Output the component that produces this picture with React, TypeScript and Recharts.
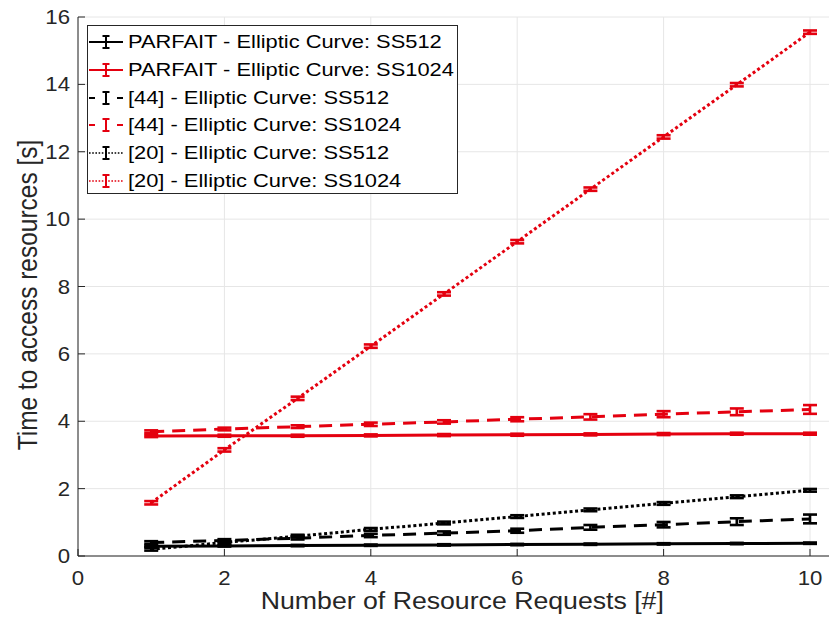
import React from 'react';
import { LineChart, Line, XAxis, YAxis, CartesianGrid, ErrorBar, Legend, Label } from 'recharts';

// ---- data ----
const requests = [1, 2, 3, 4, 5, 6, 7, 8, 9, 10];

const parfaitSS512 = [0.29, 0.3, 0.31, 0.32, 0.33, 0.34, 0.35, 0.36, 0.37, 0.38];
const parfaitSS512Err = [0.02, 0.02, 0.02, 0.02, 0.02, 0.02, 0.02, 0.02, 0.02, 0.02];

const parfaitSS1024 = [3.56, 3.57, 3.57, 3.58, 3.59, 3.6, 3.61, 3.62, 3.63, 3.63];
const parfaitSS1024Err = [0.03, 0.03, 0.03, 0.03, 0.03, 0.03, 0.03, 0.03, 0.03, 0.03];

const ref44SS512 = [0.4, 0.46, 0.53, 0.61, 0.68, 0.75, 0.85, 0.93, 1.02, 1.1];
const ref44SS512Err = [0.04, 0.04, 0.04, 0.05, 0.05, 0.06, 0.07, 0.08, 0.1, 0.13];

const ref44SS1024 = [3.69, 3.77, 3.84, 3.91, 3.98, 4.06, 4.13, 4.21, 4.28, 4.35];
const ref44SS1024Err = [0.04, 0.04, 0.04, 0.05, 0.05, 0.06, 0.08, 0.09, 0.1, 0.13];

const ref20SS512 = [0.2, 0.4, 0.59, 0.79, 0.98, 1.17, 1.37, 1.56, 1.76, 1.95];
const ref20SS512Err = [0.04, 0.04, 0.04, 0.04, 0.04, 0.04, 0.04, 0.04, 0.04, 0.04];

const ref20SS1024 = [1.58, 3.15, 4.68, 6.23, 7.78, 9.33, 10.89, 12.44, 13.99, 15.55];
const ref20SS1024Err = [0.05, 0.05, 0.05, 0.05, 0.05, 0.05, 0.05, 0.05, 0.05, 0.05];

const xTicks = [0, 2, 4, 6, 8, 10];
const yTicks = [0, 2, 4, 6, 8, 10, 12, 14, 16];

const xLabel = 'Number of Resource Requests [#]';
const yLabel = 'Time to access resources [s]';

const RED = '#e4000f';
const BLACK = '#000000';
const AXIS = '#262626';
const FONT = '"Liberation Sans", Arial, Helvetica, sans-serif';

type Style = 'solid' | 'dashed' | 'dotted';
const series: { key: string; name: string; color: string; style: Style; values: number[]; errors: number[] }[] = [
  { key: 'p512', name: 'PARFAIT - Elliptic Curve: SS512', color: BLACK, style: 'solid', values: parfaitSS512, errors: parfaitSS512Err },
  { key: 'p1024', name: 'PARFAIT - Elliptic Curve: SS1024', color: RED, style: 'solid', values: parfaitSS1024, errors: parfaitSS1024Err },
  { key: 'r44_512', name: '[44] - Elliptic Curve: SS512', color: BLACK, style: 'dashed', values: ref44SS512, errors: ref44SS512Err },
  { key: 'r44_1024', name: '[44] - Elliptic Curve: SS1024', color: RED, style: 'dashed', values: ref44SS1024, errors: ref44SS1024Err },
  { key: 'r20_512', name: '[20] - Elliptic Curve: SS512', color: BLACK, style: 'dotted', values: ref20SS512, errors: ref20SS512Err },
  { key: 'r20_1024', name: '[20] - Elliptic Curve: SS1024', color: RED, style: 'dotted', values: ref20SS1024, errors: ref20SS1024Err },
];

const data = requests.map((x, i) => {
  const row: Record<string, number> = { x };
  series.forEach((s) => {
    row[s.key] = s.values[i];
    row[s.key + '_err'] = s.errors[i];
  });
  return row;
});

const dashFor = (style: Style) => (style === 'dashed' ? '13 8' : style === 'dotted' ? '3 2.6' : undefined);

// ---- ticks ----
const BottomTick = (props: any) => {
  const { x, y, payload } = props;
  return (
    <g>
      <line x1={x} x2={x} y1={y} y2={y - 7} stroke={AXIS} strokeWidth={1} />
      <text
        transform={`translate(${x},${y + 29}) scale(1.11,1)`}
        textAnchor="middle"
        fontSize={20}
        fontFamily={FONT}
        fill={AXIS}
      >
        {payload.value}
      </text>
    </g>
  );
};

const TopTick = (props: any) => {
  const { x, y } = props;
  return <line x1={x} x2={x} y1={y} y2={y + 7} stroke={AXIS} strokeWidth={1} />;
};

const LeftTick = (props: any) => {
  const { x, y, payload } = props;
  return (
    <g>
      <line x1={x} x2={x + 7} y1={y} y2={y} stroke={AXIS} strokeWidth={1} />
      <text
        transform={`translate(${x - 8},${y + 7}) scale(1.11,1)`}
        textAnchor="end"
        fontSize={20}
        fontFamily={FONT}
        fill={AXIS}
      >
        {payload.value}
      </text>
    </g>
  );
};

const XLabelContent = (props: any) => {
  const vb = props.viewBox || { x: 70, y: 556, width: 768, height: 64 };
  const cx = vb.x + vb.width / 2;
  return (
    <text
      transform={`translate(${cx},${vb.y + 53}) scale(1.16,1)`}
      textAnchor="middle"
      fontSize={23}
      fontFamily={FONT}
      fill={AXIS}
    >
      {xLabel}
    </text>
  );
};

const YLabelContent = () => (
  <text
    transform={`translate(29,295) rotate(-90) scale(1,1.16)`}
    textAnchor="middle"
    fontSize={24.5}
    fontFamily={FONT}
    fill={AXIS}
  >
    {yLabel}
  </text>
);

// ---- legend ----
const LegendIcon = ({ color, style }: { color: string; style: Style }) => (
  <svg width={38} height={28} style={{ flex: 'none', display: 'block' }}>
    {style === 'solid' && <line x1={1} x2={35} y1={14} y2={14} stroke={color} strokeWidth={2} />}
    {style === 'dashed' && (
      <g>
        <line x1={1} x2={7} y1={14} y2={14} stroke={color} strokeWidth={2} />
        <line x1={29} x2={35} y1={14} y2={14} stroke={color} strokeWidth={2} />
      </g>
    )}
    {style === 'dotted' && (
      <line x1={1} x2={35} y1={14} y2={14} stroke={color} strokeWidth={1.6} strokeDasharray="1.6 1.6" />
    )}
    <line x1={18} x2={18} y1={8} y2={20} stroke={color} strokeWidth={2} />
    <line x1={14.5} x2={21.5} y1={8} y2={8} stroke={color} strokeWidth={2} />
    <line x1={14.5} x2={21.5} y1={20} y2={20} stroke={color} strokeWidth={2} />
  </svg>
);

const LegendBox = () => (
  <div
    style={{
      width: 371,
      height: 169,
      boxSizing: 'border-box',
      border: `1px solid ${AXIS}`,
      background: '#ffffff',
      paddingTop: 2,
    }}
  >
    {series.map((s) => (
      <div key={s.key} style={{ height: 27.8, display: 'flex', alignItems: 'center' }}>
        <LegendIcon color={s.color} style={s.style} />
        <span
          style={{
            fontFamily: FONT,
            fontSize: 19,
            color: '#000',
            display: 'inline-block',
            transform: 'scaleX(1.15)',
            transformOrigin: 'left center',
            whiteSpace: 'nowrap',
            marginLeft: 2,
            lineHeight: '28px',
          }}
        >
          {s.name}
        </span>
      </div>
    ))}
  </div>
);

export default function App() {
  return (
    <div style={{ width: 829, height: 620, marginTop: -8, overflow: 'hidden', background: '#fff' }}>
      <LineChart width={850} height={620} data={data} margin={{ top: 17, right: 11.4, bottom: 0, left: 0 }}>
        <CartesianGrid stroke="#e6e6e6" strokeWidth={1} />
        <XAxis
          dataKey="x"
          type="number"
          domain={[0, 10.5]}
          ticks={xTicks}
          allowDataOverflow
          height={64}
          tickSize={0}
          tickMargin={0}
          tick={<BottomTick />}
          axisLine={{ stroke: AXIS, strokeWidth: 1 }}
          tickLine={false}
        >
          <Label content={<XLabelContent />} />
        </XAxis>
        <XAxis
          xAxisId="top"
          orientation="top"
          type="number"
          domain={[0, 10.5]}
          ticks={xTicks}
          allowDataOverflow
          height={0}
          tickSize={0}
          tickMargin={0}
          tick={<TopTick />}
          axisLine={{ stroke: AXIS, strokeWidth: 1 }}
          tickLine={false}
        />
        <YAxis
          type="number"
          domain={[0, 16]}
          ticks={yTicks}
          allowDataOverflow
          width={70}
          tickSize={0}
          tickMargin={0}
          tick={<LeftTick />}
          axisLine={{ stroke: AXIS, strokeWidth: 1 }}
          tickLine={false}
        >
          <Label content={<YLabelContent />} />
        </YAxis>
        {series.map((s) => (
          <Line
            key={s.key}
            dataKey={s.key}
            name={s.name}
            type="linear"
            stroke={s.color}
            strokeWidth={3}
            strokeDasharray={dashFor(s.style)}
            dot={false}
            activeDot={false}
            isAnimationActive={false}
          >
            <ErrorBar dataKey={s.key + '_err'} width={7} strokeWidth={2.6} stroke={s.color} direction="y" />
          </Line>
        ))}
        <Legend
          layout="vertical"
          align="center"
          verticalAlign="middle"
          content={() => <LegendBox />}
          wrapperStyle={{ position: 'absolute', left: 79, top: 25, width: 371, height: 169 }}
        />
      </LineChart>
    </div>
  );
}
